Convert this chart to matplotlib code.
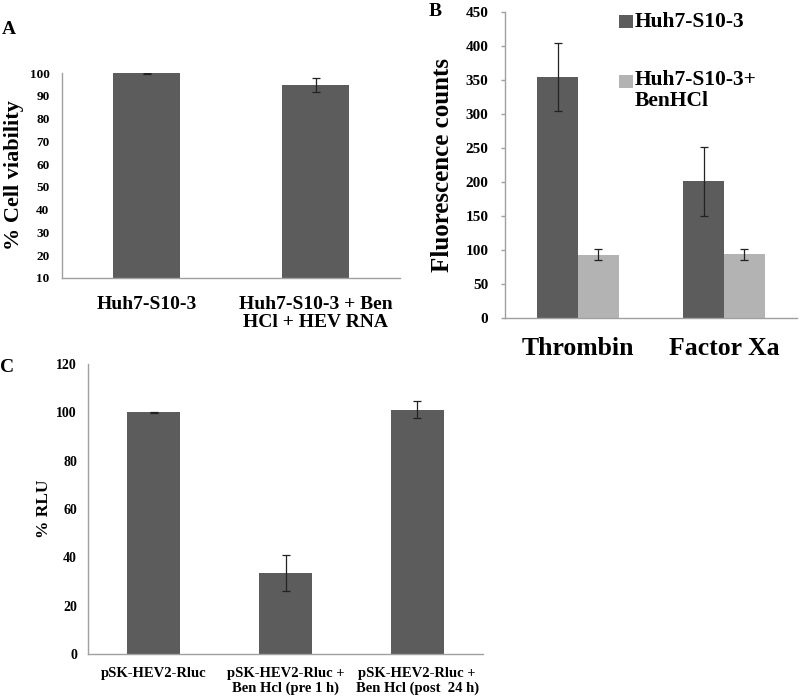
import matplotlib
matplotlib.use("Agg")
import matplotlib.pyplot as plt
from matplotlib.patches import Rectangle
import numpy as np

plt.rcParams['font.family'] = ['Liberation Serif', 'DejaVu Serif']
plt.rcParams['font.weight'] = 'bold'
SERIF = ['Liberation Serif', 'DejaVu Serif']

# Panel A
a_cats = ["Huh7-S10-3", "Huh7-S10-3 + Ben\nHCl + HEV RNA"]
a_vals = [99.8, 94.8]
a_errs = [0.2, 3.0]
a_yticks = [10, 20, 30, 40, 50, 60, 70, 80, 90, 100]

# Panel B
b_groups = ["Thrombin", "Factor Xa"]
b_series = ["Huh7-S10-3", "Huh7-S10-3+", "BenHCl"]
b_dark = [354, 201]
b_dark_err = [50, 51]
b_light = [93, 94]
b_light_err = [8, 8]
b_yticks = [0, 50, 100, 150, 200, 250, 300, 350, 400, 450]

# Panel C
c_cats = ["pSK-HEV2-Rluc", "pSK-HEV2-Rluc +\nBen Hcl (pre 1 h)", "pSK-HEV2-Rluc +\nBen Hcl (post  24 h)"]
c_vals = [100, 33.5, 101]
c_errs = [0.2, 7.5, 3.5]
c_yticks = [0, 20, 40, 60, 80, 100, 120]

DARK = '#5c5c5c'
LIGHT = '#b3b3b3'
SPINE = '#a0a0a0'

fig = plt.figure(figsize=(8, 7), dpi=100)

def style(ax, ticklen=0):
    for s in ['top', 'right']:
        ax.spines[s].set_visible(False)
    for s in ['left', 'bottom']:
        ax.spines[s].set_color(SPINE)
        ax.spines[s].set_linewidth(1.0)
    ax.tick_params(axis='x', length=0)
    ax.tick_params(axis='y', length=ticklen, color=SPINE, width=1.0)

ekw = dict(ecolor='#222222', elinewidth=0.9, capsize=3, capthick=0.9)

# A
axA = fig.add_axes([62/800, 1-278/700, 338/800, 205/700])
xa = np.arange(len(a_cats))
axA.bar(xa, a_vals, width=0.4, color=DARK, yerr=a_errs, error_kw=ekw, bottom=0)
axA.set_ylim(10, 100)
axA.set_xlim(-0.5, 1.5)
axA.set_yticks(a_yticks)
axA.set_yticklabels([str(t) for t in a_yticks], fontsize=9.5, fontweight='bold', family=SERIF)
axA.set_xticks(xa)
axA.set_xticklabels(a_cats, fontsize=14, fontweight='bold', linespacing=1.05, family=SERIF)
axA.tick_params(axis='x', pad=13)
axA.tick_params(axis='y', pad=9)
axA.set_ylabel("% Cell viability", fontsize=16, fontweight='bold', labelpad=4, family=SERIF)
style(axA)
fig.text(9/800, 1-29/700, "A", fontsize=14, fontweight='bold', va='center', ha='center', family=SERIF)

# B
axB = fig.add_axes([505/800, 1-318/700, 292/800, 306/700])
xb = np.arange(len(b_groups))
w = 0.28
axB.bar(xb - w/2, b_dark, width=w, color=DARK, yerr=b_dark_err, error_kw=ekw)
axB.bar(xb + w/2, b_light, width=w, color=LIGHT, yerr=b_light_err, error_kw=ekw)
axB.set_ylim(0, 450)
axB.set_xlim(-0.5, 1.5)
axB.set_yticks(b_yticks)
axB.set_yticklabels([str(t) for t in b_yticks], fontsize=11, fontweight='bold', family=SERIF)
axB.set_xticks(xb)
axB.set_xticklabels(b_groups, fontsize=18.5, fontweight='bold', family=SERIF)
axB.tick_params(axis='x', pad=14)
axB.tick_params(axis='y', pad=9)
axB.set_ylabel("Fluorescence counts", fontsize=18, fontweight='bold', labelpad=8, family=SERIF)
style(axB, ticklen=3)
# manual legend
fig.patches.append(Rectangle((619/800, 1-28/700), 14/800, 13/700, transform=fig.transFigure,
                             facecolor=DARK, edgecolor='none'))
fig.patches.append(Rectangle((619/800, 1-88/700), 14/800, 13/700, transform=fig.transFigure,
                             facecolor=LIGHT, edgecolor='none'))
fig.text(635/800, 1-22/700, b_series[0], fontsize=15.5, fontweight='bold', va='center', ha='left', family=SERIF)
fig.text(635/800, 1-80/700, b_series[1], fontsize=15.5, fontweight='bold', va='center', ha='left', family=SERIF)
fig.text(635/800, 1-101/700, b_series[2], fontsize=15.5, fontweight='bold', va='center', ha='left', family=SERIF)
fig.text(435/800, 1-12/700, "B", fontsize=14, fontweight='bold', va='center', ha='center', family=SERIF)

# C
axC = fig.add_axes([88/800, 1-654/700, 395/800, 290/700])
xc = np.arange(len(c_cats))
axC.bar(xc, c_vals, width=0.4, color=DARK, yerr=c_errs, error_kw=ekw)
axC.set_ylim(0, 120)
axC.set_xlim(-0.5, 2.5)
axC.set_yticks(c_yticks)
axC.set_yticklabels([str(t) for t in c_yticks], fontsize=10, fontweight='bold', family=SERIF)
axC.set_xticks(xc)
axC.set_xticklabels(c_cats, fontsize=10.5, fontweight='bold', family=SERIF)
axC.tick_params(axis='x', pad=9)
axC.tick_params(axis='y', pad=8)
axC.set_ylabel("% RLU", fontsize=12.5, fontweight='bold', labelpad=3, family=SERIF)
style(axC)
fig.text(7/800, 1-368/700, "C", fontsize=14, fontweight='bold', va='center', ha='center', family=SERIF)

fig.savefig("out.png", dpi=100)
